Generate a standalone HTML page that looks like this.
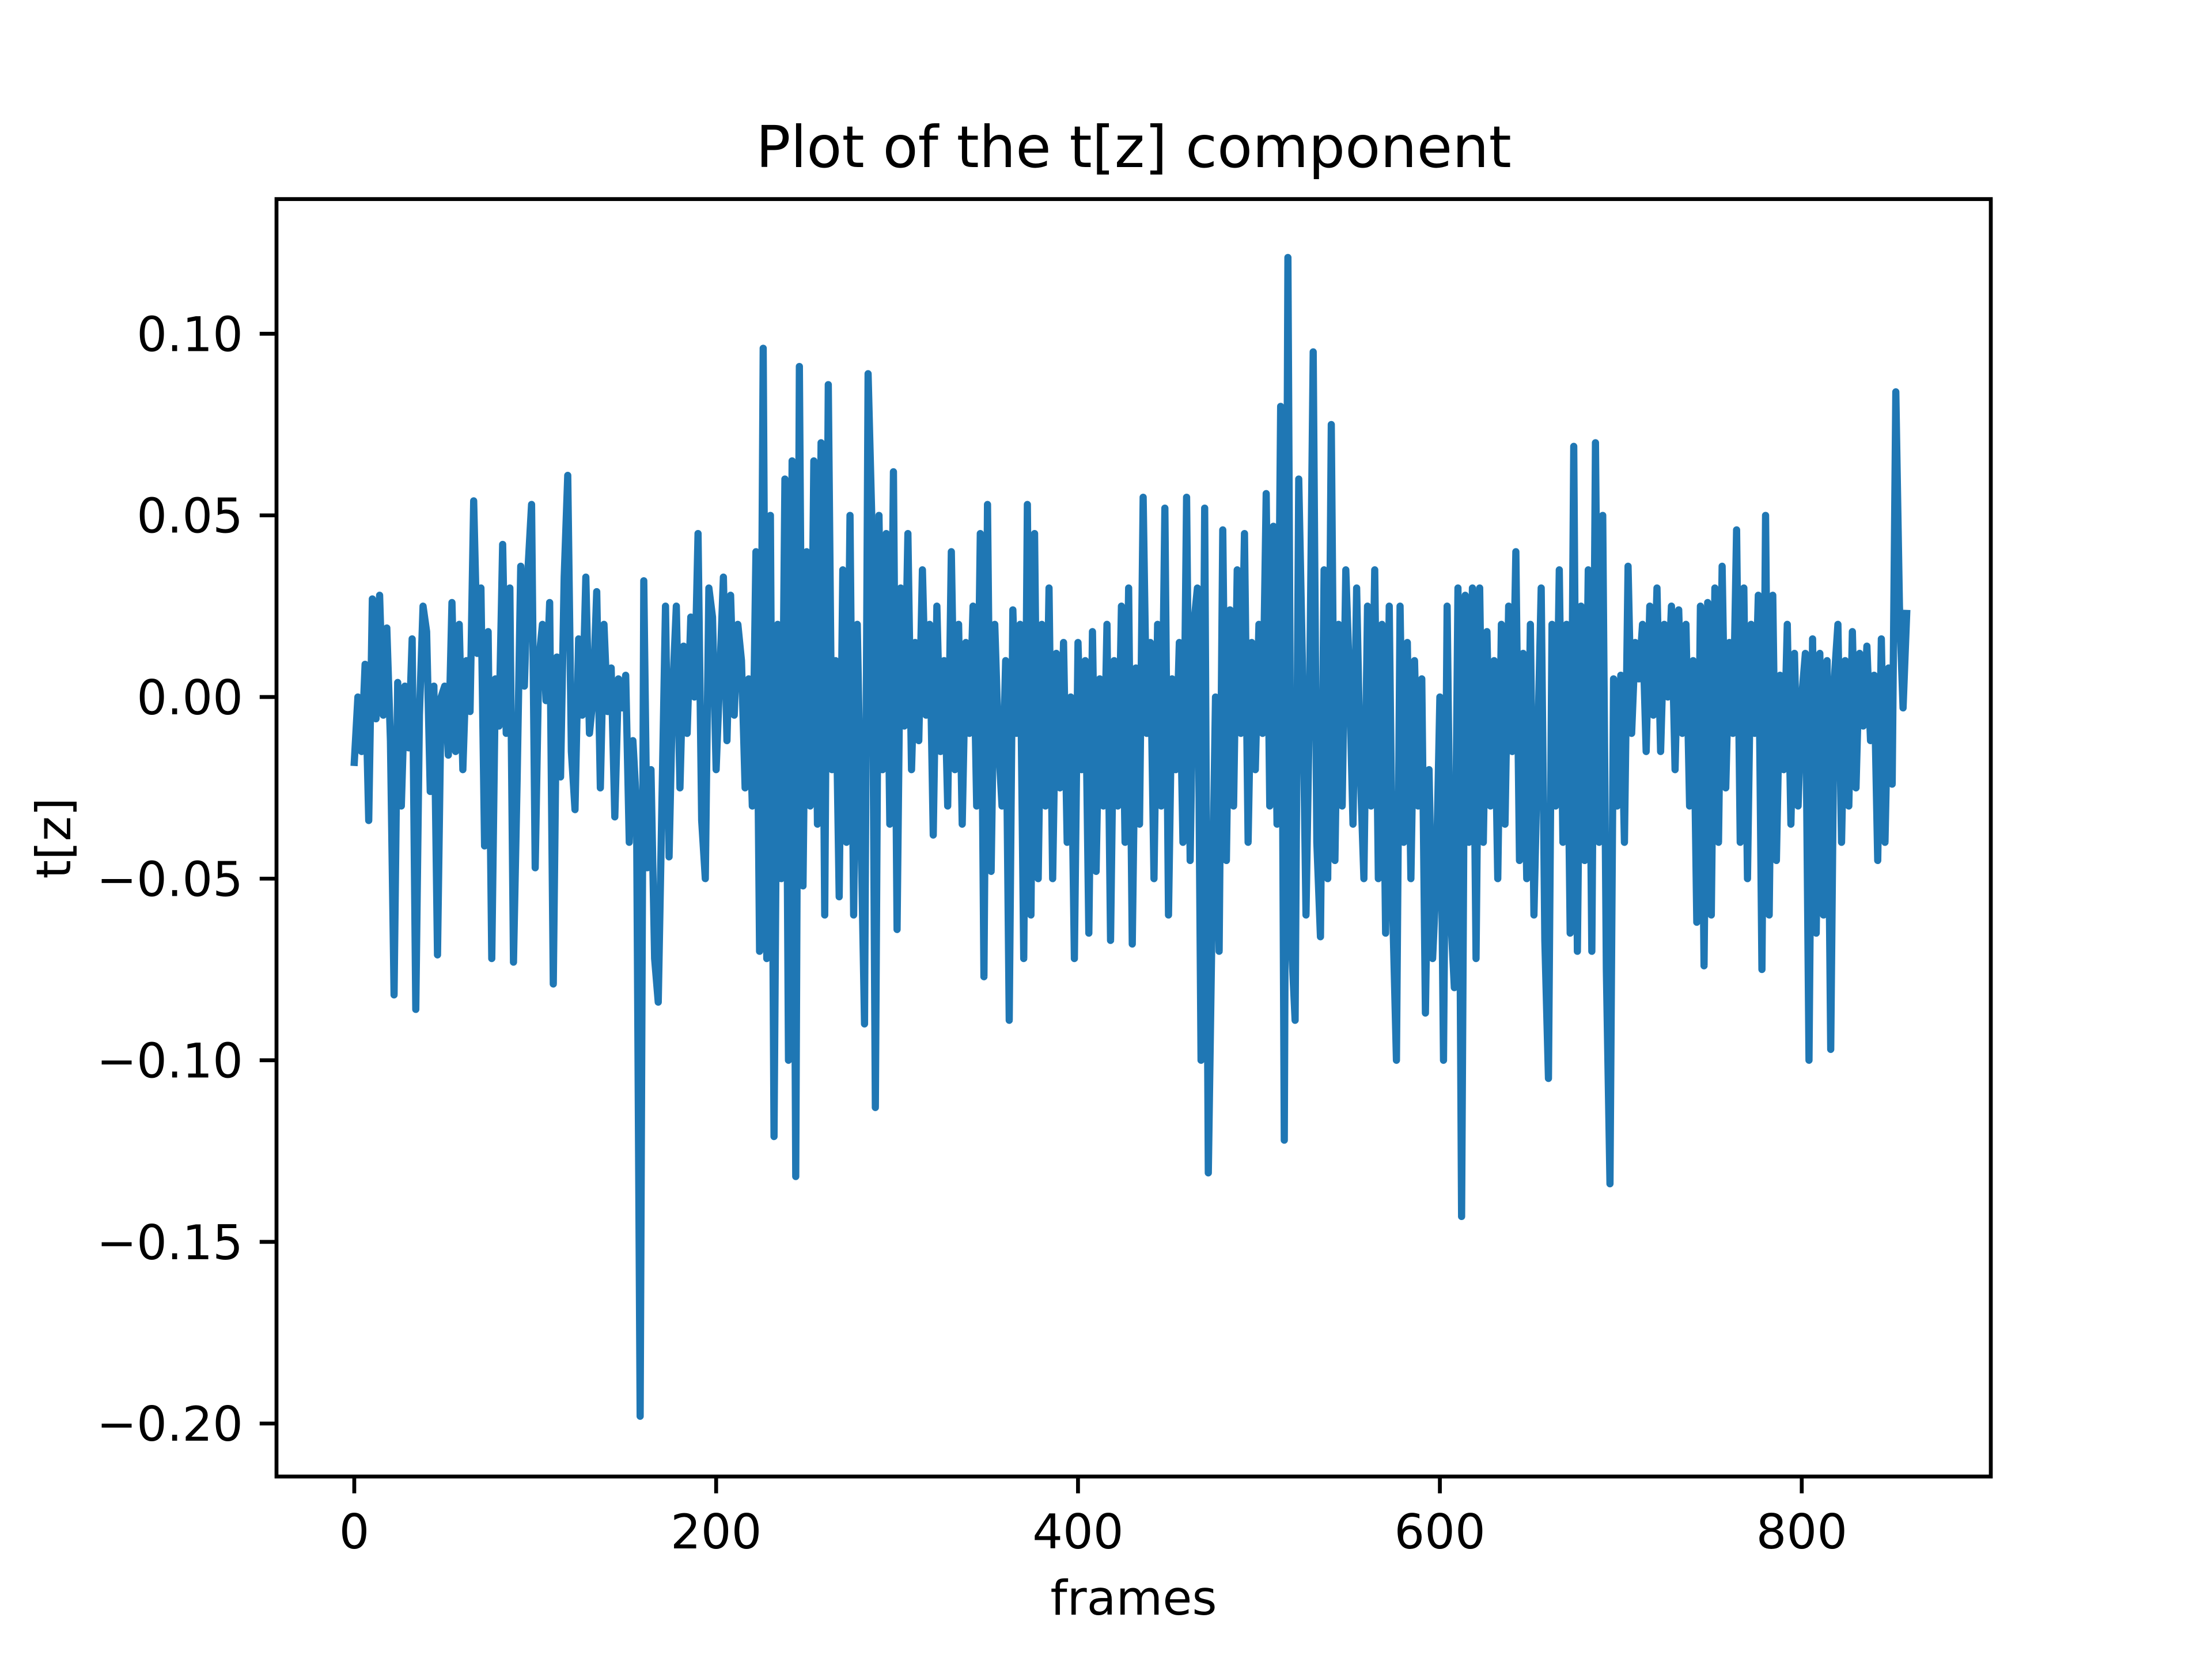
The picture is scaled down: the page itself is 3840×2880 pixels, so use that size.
<!DOCTYPE html>
<html><head><meta charset="utf-8"><style>
html,body{margin:0;padding:0;background:#fff;}
svg{display:block;font-family:"DejaVu Sans","Liberation Sans",sans-serif;}
</style></head><body>
<svg id="chart" width="3840" height="2880" viewBox="0 0 3840 2880" xmlns="http://www.w3.org/2000/svg">
<rect width="3840" height="2880" fill="#fff"/>
<text x="1968" y="290" font-size="100" text-anchor="middle">Plot of the t[z] component</text>
<g id="plot"></g>
<g id="xt"></g>
<g id="yt"></g>
<rect x="480" y="345.6" width="2976" height="2217.6" fill="none" stroke="#000" stroke-width="6.7"/>
<text x="1968" y="2803" font-size="83" text-anchor="middle">frames</text>
<text x="0" y="0" font-size="83" text-anchor="middle" transform="translate(122,1455) rotate(-90)">t[z]</text>
</svg>
<script>
const frameStep = 2;
const values = [
-0.018,0.0,-0.015,0.009,-0.034,0.027,-0.006,0.028,-0.005,0.019,
-0.012,-0.082,0.004,-0.03,0.003,-0.014,0.016,-0.086,-0.005,0.025,
0.018,-0.026,0.003,-0.071,0.0,0.003,-0.016,0.026,-0.015,0.02,
-0.02,0.01,-0.004,0.054,0.012,0.03,-0.041,0.018,-0.072,0.005,
-0.008,0.042,-0.01,0.03,-0.073,-0.023,0.036,0.003,0.035,0.053,
-0.047,0.01,0.02,-0.001,0.026,-0.079,0.011,-0.022,0.033,0.061,
-0.015,-0.031,0.016,-0.005,0.033,-0.01,0.0,0.029,-0.025,0.02,
-0.004,0.008,-0.033,0.005,-0.003,0.006,-0.04,-0.012,-0.03,-0.198,
0.032,-0.047,-0.02,-0.072,-0.084,-0.03,0.025,-0.044,0.002,0.025,
-0.025,0.014,-0.01,0.022,0.0,0.045,-0.034,-0.05,0.03,0.022,
-0.02,0.006,0.033,-0.012,0.028,-0.005,0.02,0.01,-0.025,0.005,
-0.03,0.04,-0.07,0.096,-0.072,0.05,-0.121,0.02,-0.05,0.06,
-0.1,0.065,-0.132,0.091,-0.052,0.04,-0.03,0.065,-0.035,0.07,
-0.06,0.086,-0.02,0.01,-0.055,0.035,-0.04,0.05,-0.06,0.02,
-0.035,-0.09,0.089,0.05,-0.113,0.05,-0.02,0.045,-0.035,0.062,
-0.064,0.03,-0.008,0.045,-0.02,0.015,-0.012,0.035,-0.005,0.02,
-0.038,0.025,-0.015,0.01,-0.03,0.04,-0.02,0.02,-0.035,0.015,
-0.01,0.025,-0.03,0.045,-0.077,0.053,-0.048,0.02,-0.012,-0.03,
0.01,-0.089,0.024,-0.01,0.02,-0.072,0.053,-0.06,0.045,-0.05,
0.02,-0.03,0.03,-0.05,0.012,-0.025,0.015,-0.04,0.0,-0.072,
0.015,-0.02,0.01,-0.065,0.018,-0.048,0.005,-0.03,0.02,-0.067,
0.01,-0.03,0.025,-0.04,0.03,-0.068,0.008,-0.035,0.055,-0.01,
0.015,-0.05,0.02,-0.03,0.052,-0.06,0.005,-0.02,0.015,-0.04,
0.055,-0.045,0.02,0.03,-0.1,0.052,-0.131,-0.065,0.0,-0.07,
0.046,-0.045,0.024,-0.03,0.035,-0.01,0.045,-0.04,0.015,-0.02,
0.02,-0.01,0.056,-0.03,0.047,-0.035,0.08,-0.122,0.121,-0.068,
-0.089,0.06,0.01,-0.06,0.0,0.095,-0.04,-0.066,0.035,-0.05,
0.075,-0.045,0.02,-0.03,0.035,0.005,-0.035,0.03,-0.02,-0.05,
0.025,-0.03,0.035,-0.05,0.02,-0.065,0.025,-0.06,-0.1,0.025,
-0.04,0.015,-0.05,0.01,-0.03,0.005,-0.087,-0.02,-0.072,-0.05,
0.0,-0.1,0.025,-0.06,-0.08,0.03,-0.143,0.028,-0.04,0.03,
-0.072,0.03,-0.04,0.018,-0.03,0.01,-0.05,0.02,-0.035,0.025,
-0.015,0.04,-0.045,0.012,-0.05,0.02,-0.06,-0.015,0.03,-0.067,
-0.105,0.02,-0.03,0.035,-0.04,0.02,-0.065,0.069,-0.07,0.025,
-0.045,0.035,-0.07,0.07,-0.04,0.05,-0.075,-0.134,0.005,-0.03,
0.006,-0.04,0.036,-0.01,0.015,0.005,0.02,-0.015,0.025,-0.005,
0.03,-0.015,0.02,0.0,0.025,-0.02,0.024,-0.01,0.02,-0.03,
0.01,-0.062,0.025,-0.074,0.026,-0.06,0.03,-0.04,0.036,-0.025,
0.015,-0.01,0.046,-0.04,0.03,-0.05,0.02,-0.01,0.028,-0.075,
0.05,-0.06,0.028,-0.045,0.006,-0.02,0.02,-0.035,0.012,-0.03,
0.0,0.012,-0.1,0.016,-0.065,0.012,-0.06,0.01,-0.097,0.005,
0.02,-0.04,0.01,-0.03,0.018,-0.025,0.012,-0.008,0.014,-0.012,
0.006,-0.045,0.016,-0.04,0.008,-0.024,0.084,0.025,-0.003,0.023
];
const xTicks = [0,200,400,600,800];
const yTicks = [0.10,0.05,0.00,-0.05,-0.10,-0.15,-0.20];
const yTickLabels = ["0.10","0.05","0.00","\u22120.05","\u22120.10","\u22120.15","\u22120.20"];

const NS = "http://www.w3.org/2000/svg";
function xs(f){ return 615 + f * 3.141; }
function ys(v){ return 1210 - v * 6306; }

const plot = document.getElementById('plot');
let d = '';
values.forEach((v,i)=>{ d += (i? 'L':'M') + xs(i*frameStep).toFixed(1) + ',' + ys(v).toFixed(1); });
const line = document.createElementNS(NS,'path');
line.setAttribute('d', d);
line.setAttribute('fill','none');
line.setAttribute('stroke','#1f77b4');
line.setAttribute('stroke-width','12.5');
line.setAttribute('stroke-linejoin','round');
line.setAttribute('stroke-linecap','square');
line.setAttribute('clip-path','url(#clip)');


plot.appendChild(line);

const xt = document.getElementById('xt');
xTicks.forEach(t=>{
  const tk = document.createElementNS(NS,'line');
  tk.setAttribute('x1',xs(t)); tk.setAttribute('x2',xs(t));
  tk.setAttribute('y1',2563.2); tk.setAttribute('y2',2592.4);
  tk.setAttribute('stroke','#000'); tk.setAttribute('stroke-width','6.7');
  
  
  xt.appendChild(tk);
  const tx = document.createElementNS(NS,'text');
  tx.setAttribute('x',xs(t)); tx.setAttribute('y',2688);
  tx.setAttribute('font-size','83'); tx.setAttribute('text-anchor','middle');
  tx.textContent = String(t);
  
  
  xt.appendChild(tx);
});
const yt = document.getElementById('yt');
yTicks.forEach((t,i)=>{
  const tk = document.createElementNS(NS,'line');
  tk.setAttribute('x1',450.8); tk.setAttribute('x2',480);
  tk.setAttribute('y1',ys(t)); tk.setAttribute('y2',ys(t));
  tk.setAttribute('stroke','#000'); tk.setAttribute('stroke-width','6.7');
  
  
  yt.appendChild(tk);
  const tx = document.createElementNS(NS,'text');
  tx.setAttribute('x',422); tx.setAttribute('y',ys(t)+30);
  tx.setAttribute('font-size','83'); tx.setAttribute('text-anchor','end');
  tx.textContent = yTickLabels[i];
  
  
  yt.appendChild(tx);
});
const defs = document.createElementNS(NS,'defs');
defs.innerHTML = '<clipPath id="clip"><rect x="480" y="345.6" width="2976" height="2217.6"/></clipPath>';
document.getElementById('chart').insertBefore(defs, plot);
</script>
</body></html>
